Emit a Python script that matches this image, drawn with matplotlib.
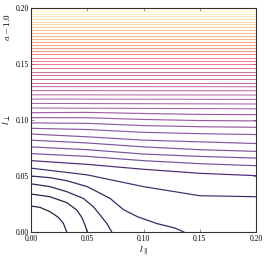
import matplotlib
matplotlib.use("Agg")
import matplotlib.pyplot as plt

# contour lines (l_par, l_perp)
# closed curves near the origin
arc_x = [
    [0.0, 0.008, 0.0169, 0.0243, 0.0288, 0.0318],
    [0.0, 0.0169, 0.0318, 0.0407, 0.0451, 0.048, 0.050],
    [0.0, 0.0169, 0.0318, 0.0465, 0.0554, 0.0614, 0.0673, 0.0718],
    [0.0, 0.0169, 0.0318, 0.050, 0.0703, 0.0821, 0.095, 0.112, 0.128, 0.1359],
]
arc_y = [
    [0.0232, 0.0220, 0.0181, 0.0131, 0.0077, 0.0],
    [0.0339, 0.0315, 0.0262, 0.0196, 0.0131, 0.0063, 0.0],
    [0.043, 0.0405, 0.036, 0.030, 0.0226, 0.0152, 0.0077, 0.0],
    [0.050, 0.0485, 0.0458, 0.0405, 0.030, 0.0200, 0.0135, 0.0075, 0.0035, 0.0],
]

# lines crossing the whole panel, sampled at these l_par values
grid_x = [0.0, 0.05, 0.10, 0.15, 0.20]
mid_rows = [
    [0.057, 0.051, 0.0405, 0.0324, 0.0315],
    [0.0637, 0.0604, 0.056, 0.0524, 0.0503],
    [0.070, 0.0675, 0.0637, 0.061, 0.0592],
    [0.076, 0.0735, 0.0696, 0.0675, 0.066],
    [0.082, 0.0795, 0.076, 0.0735, 0.072],
    [0.0875, 0.085, 0.082, 0.0805, 0.079],
    [0.0926, 0.0915, 0.0890, 0.0878, 0.0870],
    [0.0974, 0.0970, 0.0950, 0.0940, 0.0935],
    [0.1021, 0.1020, 0.1005, 0.0995, 0.0992],
    [0.1065, 0.1068, 0.1058, 0.1050, 0.1048],
]

# nearly flat lines in the upper part: l_perp at left and right edge
top_left = [0.1107, 0.1148, 0.1187, 0.1225, 0.1262, 0.1298, 0.1333, 0.1367,
            0.1401, 0.1433, 0.1465, 0.1496, 0.1526, 0.1556, 0.1585, 0.1614,
            0.1642, 0.1670, 0.1698, 0.1724, 0.1751, 0.1777, 0.1803, 0.1828,
            0.1853, 0.1878, 0.1902, 0.1926, 0.1950, 0.1973]
top_right = [0.1100, 0.1143, 0.1184, 0.1223, 0.1261, 0.1297, 0.1333, 0.1367,
             0.1401, 0.1433, 0.1465, 0.1496, 0.1526, 0.1556, 0.1585, 0.1614,
             0.1642, 0.1670, 0.1698, 0.1724, 0.1751, 0.1777, 0.1803, 0.1828,
             0.1853, 0.1878, 0.1902, 0.1926, 0.1950, 0.1973]

ticks = [0.0, 0.05, 0.10, 0.15, 0.20]
tick_labels = ["0.00", "0.05", "0.10", "0.15", "0.20"]

plt.rcParams["font.family"] = ["Liberation Serif", "DejaVu Serif"]
plt.rcParams["mathtext.fontset"] = "cm"

fig = plt.figure(figsize=(2.66, 2.59), dpi=100)
ax = fig.add_axes([31 / 266, 27 / 259, 225 / 266, 224 / 259])

n_lines = len(arc_x) + len(mid_rows) + len(top_left)
cmap = plt.get_cmap("magma")


def col(i):
    return cmap(0.08 + 0.9 * i / (n_lines - 1))


def alpha(i):
    # darker lines near the origin look solid, the rest washed out
    return 0.9 if i < 6 else 0.72


k = 0
for xs, ys in zip(arc_x, arc_y):
    ax.plot(xs, ys, color=col(k), lw=0.9, alpha=alpha(k))
    k += 1
for row in mid_rows:
    ax.plot(grid_x, row, color=col(k), lw=0.85, alpha=alpha(k))
    k += 1
for y0, y1 in zip(top_left, top_right):
    ax.plot([0.0, 0.2], [y0, y1], color=col(k), lw=0.75, alpha=alpha(k))
    k += 1

ax.set_xlim(0, 0.2)
ax.set_ylim(0, 0.2)
ax.set_xticks(ticks)
ax.set_xticklabels(tick_labels)
ax.set_yticks(ticks)
ax.set_yticklabels(tick_labels)
ax.tick_params(direction="in", length=2, width=0.6, labelsize=5.5,
               top=True, right=True, color="#777777")
ax.tick_params(axis="x", pad=2.5)
ax.tick_params(axis="y", pad=1.5)
for s in ax.spines.values():
    s.set_linewidth(0.8)
    s.set_color("#333333")

ax.set_xlabel(r"$l_\parallel$", fontsize=7, labelpad=1)
ax.set_ylabel(r"$l_\perp$", fontsize=7, labelpad=2)
fig.text(0.028, 0.895, r"$a - 1.0$", rotation=90, fontsize=6.5,
         ha="center", va="center")

fig.savefig("out.png", dpi=100)
